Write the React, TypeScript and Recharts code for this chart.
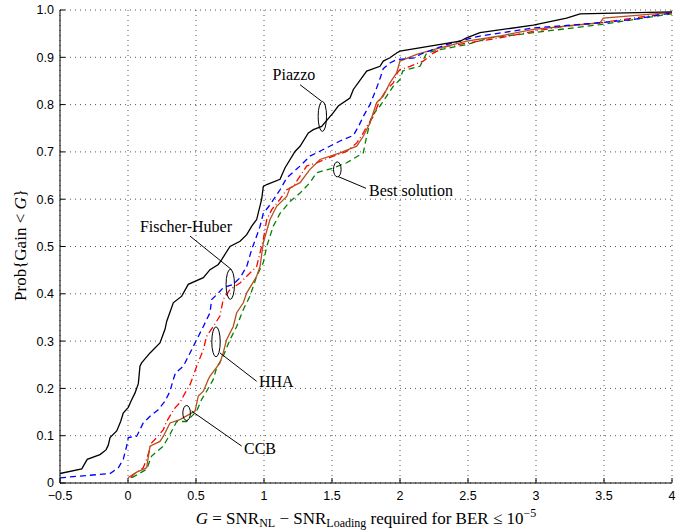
import React from 'react';
import {
  LineChart,
  Line,
  XAxis,
  YAxis,
  CartesianGrid,
  ReferenceLine,
  ReferenceDot,
} from 'recharts';

type Pt = { x: number; y: number };

// ---------------- data ----------------
const xTicks = [-0.5, 0, 0.5, 1, 1.5, 2, 2.5, 3, 3.5, 4];
const yTicks = [0, 0.1, 0.2, 0.3, 0.4, 0.5, 0.6, 0.7, 0.8, 0.9, 1.0];

const piazzo: Pt[] = [
  { x: -0.5, y: 0.02 }, { x: -0.34, y: 0.03 }, { x: -0.3, y: 0.05 }, { x: -0.206, y: 0.06 },
  { x: -0.162, y: 0.07 }, { x: -0.145, y: 0.08 }, { x: -0.132, y: 0.096 }, { x: -0.083, y: 0.11 },
  { x: -0.054, y: 0.13 }, { x: -0.035, y: 0.148 }, { x: 0.002, y: 0.16 }, { x: 0.027, y: 0.176 },
  { x: 0.051, y: 0.19 }, { x: 0.076, y: 0.21 }, { x: 0.088, y: 0.247 }, { x: 0.1, y: 0.254 },
  { x: 0.162, y: 0.275 }, { x: 0.235, y: 0.296 }, { x: 0.272, y: 0.325 }, { x: 0.285, y: 0.342 },
  { x: 0.333, y: 0.381 }, { x: 0.395, y: 0.395 }, { x: 0.443, y: 0.42 }, { x: 0.554, y: 0.434 },
  { x: 0.603, y: 0.451 }, { x: 0.664, y: 0.462 }, { x: 0.69, y: 0.473 }, { x: 0.75, y: 0.5 },
  { x: 0.824, y: 0.511 }, { x: 0.873, y: 0.525 }, { x: 0.91, y: 0.543 }, { x: 0.946, y: 0.557 },
  { x: 0.983, y: 0.6 }, { x: 0.995, y: 0.627 }, { x: 1.02, y: 0.631 }, { x: 1.118, y: 0.642 },
  { x: 1.154, y: 0.666 }, { x: 1.228, y: 0.701 }, { x: 1.265, y: 0.712 }, { x: 1.326, y: 0.74 },
  { x: 1.363, y: 0.747 }, { x: 1.424, y: 0.754 }, { x: 1.51, y: 0.783 }, { x: 1.546, y: 0.797 },
  { x: 1.632, y: 0.814 }, { x: 1.657, y: 0.832 }, { x: 1.755, y: 0.871 }, { x: 1.853, y: 0.881 },
  { x: 1.877, y: 0.892 }, { x: 1.926, y: 0.899 }, { x: 1.975, y: 0.909 }, { x: 2.0, y: 0.913 },
  { x: 2.441, y: 0.934 }, { x: 2.49, y: 0.941 }, { x: 2.588, y: 0.952 }, { x: 2.98, y: 0.968 },
  { x: 3.225, y: 0.983 }, { x: 3.324, y: 0.992 }, { x: 4.0, y: 0.996 },
];

const fischerHuber: Pt[] = [
  { x: -0.5, y: 0.011 }, { x: -0.132, y: 0.02 }, { x: -0.071, y: 0.032 }, { x: -0.035, y: 0.05 },
  { x: -0.01, y: 0.078 }, { x: 0.002, y: 0.096 }, { x: 0.064, y: 0.099 }, { x: 0.088, y: 0.113 },
  { x: 0.112, y: 0.127 }, { x: 0.162, y: 0.141 }, { x: 0.223, y: 0.155 }, { x: 0.272, y: 0.173 },
  { x: 0.309, y: 0.194 }, { x: 0.333, y: 0.219 }, { x: 0.35, y: 0.233 }, { x: 0.407, y: 0.247 },
  { x: 0.456, y: 0.275 }, { x: 0.505, y: 0.303 }, { x: 0.554, y: 0.331 }, { x: 0.603, y: 0.36 },
  { x: 0.615, y: 0.388 }, { x: 0.652, y: 0.398 }, { x: 0.701, y: 0.413 }, { x: 0.774, y: 0.42 },
  { x: 0.824, y: 0.434 }, { x: 0.873, y: 0.458 }, { x: 0.91, y: 0.494 }, { x: 0.946, y: 0.522 },
  { x: 0.971, y: 0.543 }, { x: 0.995, y: 0.57 }, { x: 1.044, y: 0.588 }, { x: 1.118, y: 0.62 },
  { x: 1.167, y: 0.645 }, { x: 1.265, y: 0.67 }, { x: 1.338, y: 0.691 }, { x: 1.436, y: 0.705 },
  { x: 1.559, y: 0.723 }, { x: 1.657, y: 0.735 }, { x: 1.695, y: 0.754 }, { x: 1.73, y: 0.775 },
  { x: 1.779, y: 0.8 }, { x: 1.828, y: 0.835 }, { x: 1.853, y: 0.855 }, { x: 1.877, y: 0.876 },
  { x: 1.926, y: 0.888 }, { x: 1.975, y: 0.895 }, { x: 2.11, y: 0.899 }, { x: 2.147, y: 0.906 },
  { x: 2.343, y: 0.927 }, { x: 2.49, y: 0.938 }, { x: 2.588, y: 0.945 }, { x: 2.98, y: 0.962 },
  { x: 3.47, y: 0.973 }, { x: 3.716, y: 0.98 }, { x: 4.0, y: 0.994 },
];

const hha: Pt[] = [
  { x: 0.02, y: 0.011 }, { x: 0.04, y: 0.018 }, { x: 0.112, y: 0.032 }, { x: 0.137, y: 0.05 },
  { x: 0.174, y: 0.085 }, { x: 0.211, y: 0.096 }, { x: 0.26, y: 0.113 }, { x: 0.284, y: 0.13 },
  { x: 0.321, y: 0.148 }, { x: 0.346, y: 0.159 }, { x: 0.382, y: 0.17 }, { x: 0.419, y: 0.19 },
  { x: 0.456, y: 0.208 }, { x: 0.48, y: 0.226 }, { x: 0.505, y: 0.247 }, { x: 0.554, y: 0.282 },
  { x: 0.578, y: 0.31 }, { x: 0.627, y: 0.331 }, { x: 0.676, y: 0.353 }, { x: 0.7, y: 0.388 },
  { x: 0.75, y: 0.409 }, { x: 0.824, y: 0.423 }, { x: 0.873, y: 0.437 }, { x: 0.946, y: 0.458 },
  { x: 0.971, y: 0.487 }, { x: 0.995, y: 0.515 }, { x: 1.02, y: 0.557 }, { x: 1.057, y: 0.578 },
  { x: 1.118, y: 0.6 }, { x: 1.167, y: 0.62 }, { x: 1.215, y: 0.627 }, { x: 1.265, y: 0.649 },
  { x: 1.314, y: 0.67 }, { x: 1.387, y: 0.677 }, { x: 1.51, y: 0.691 }, { x: 1.608, y: 0.701 },
  { x: 1.682, y: 0.719 }, { x: 1.73, y: 0.74 }, { x: 1.755, y: 0.754 }, { x: 1.804, y: 0.775 },
  { x: 1.853, y: 0.81 }, { x: 1.902, y: 0.832 }, { x: 1.951, y: 0.846 }, { x: 1.98, y: 0.867 },
  { x: 2.0, y: 0.874 }, { x: 2.074, y: 0.881 }, { x: 2.171, y: 0.892 }, { x: 2.245, y: 0.909 },
  { x: 2.343, y: 0.923 }, { x: 2.49, y: 0.93 }, { x: 2.735, y: 0.941 }, { x: 2.98, y: 0.955 },
  { x: 3.225, y: 0.966 }, { x: 3.47, y: 0.973 }, { x: 3.716, y: 0.983 }, { x: 4.0, y: 0.994 },
];

const ccb: Pt[] = [
  { x: 0.0, y: 0.011 }, { x: 0.064, y: 0.023 }, { x: 0.137, y: 0.032 }, { x: 0.162, y: 0.078 },
  { x: 0.235, y: 0.088 }, { x: 0.26, y: 0.099 }, { x: 0.309, y: 0.127 }, { x: 0.382, y: 0.134 },
  { x: 0.493, y: 0.152 }, { x: 0.517, y: 0.184 }, { x: 0.554, y: 0.194 }, { x: 0.59, y: 0.219 },
  { x: 0.603, y: 0.226 }, { x: 0.676, y: 0.254 }, { x: 0.7, y: 0.275 }, { x: 0.725, y: 0.303 },
  { x: 0.774, y: 0.331 }, { x: 0.799, y: 0.36 }, { x: 0.848, y: 0.381 }, { x: 0.873, y: 0.402 },
  { x: 0.946, y: 0.437 }, { x: 0.971, y: 0.458 }, { x: 0.995, y: 0.508 }, { x: 1.044, y: 0.557 },
  { x: 1.093, y: 0.585 }, { x: 1.167, y: 0.606 }, { x: 1.191, y: 0.624 }, { x: 1.265, y: 0.635 },
  { x: 1.338, y: 0.663 }, { x: 1.412, y: 0.684 }, { x: 1.559, y: 0.698 }, { x: 1.682, y: 0.712 },
  { x: 1.73, y: 0.733 }, { x: 1.779, y: 0.761 }, { x: 1.828, y: 0.804 }, { x: 1.877, y: 0.818 },
  { x: 1.926, y: 0.846 }, { x: 1.975, y: 0.867 }, { x: 2.0, y: 0.892 }, { x: 2.123, y: 0.906 },
  { x: 2.245, y: 0.916 }, { x: 2.49, y: 0.934 }, { x: 2.735, y: 0.945 }, { x: 2.98, y: 0.959 },
  { x: 3.47, y: 0.973 }, { x: 3.495, y: 0.983 }, { x: 3.716, y: 0.988 }, { x: 4.0, y: 0.995 },
];

const bestSolution: Pt[] = [
  { x: 0.027, y: 0.011 }, { x: 0.137, y: 0.029 }, { x: 0.174, y: 0.057 }, { x: 0.26, y: 0.078 },
  { x: 0.309, y: 0.103 }, { x: 0.358, y: 0.13 }, { x: 0.431, y: 0.13 }, { x: 0.505, y: 0.152 },
  { x: 0.542, y: 0.177 }, { x: 0.578, y: 0.194 }, { x: 0.627, y: 0.219 }, { x: 0.652, y: 0.244 },
  { x: 0.7, y: 0.268 }, { x: 0.75, y: 0.303 }, { x: 0.799, y: 0.331 }, { x: 0.848, y: 0.367 },
  { x: 0.897, y: 0.395 }, { x: 0.946, y: 0.437 }, { x: 0.995, y: 0.466 }, { x: 1.02, y: 0.5 },
  { x: 1.068, y: 0.543 }, { x: 1.118, y: 0.57 }, { x: 1.191, y: 0.595 }, { x: 1.265, y: 0.613 },
  { x: 1.338, y: 0.635 }, { x: 1.387, y: 0.656 }, { x: 1.51, y: 0.666 }, { x: 1.608, y: 0.677 },
  { x: 1.73, y: 0.698 }, { x: 1.755, y: 0.733 }, { x: 1.79, y: 0.775 }, { x: 1.853, y: 0.797 },
  { x: 1.902, y: 0.818 }, { x: 1.951, y: 0.839 }, { x: 2.0, y: 0.853 }, { x: 2.02, y: 0.871 },
  { x: 2.049, y: 0.874 }, { x: 2.147, y: 0.881 }, { x: 2.196, y: 0.909 }, { x: 2.294, y: 0.916 },
  { x: 2.49, y: 0.927 }, { x: 2.662, y: 0.941 }, { x: 2.98, y: 0.952 }, { x: 3.47, y: 0.969 },
  { x: 4.0, y: 0.992 },
];

// annotation anchors (data coordinates)
const annotationLabels = [
  { text: 'Piazzo', x: 1.22, y: 0.864, anchor: 'middle' },
  { text: 'Best solution', x: 1.772, y: 0.618, anchor: 'start' },
  { text: 'Fischer-Huber', x: 0.426, y: 0.542, anchor: 'middle' },
  { text: 'HHA', x: 0.963, y: 0.2146, anchor: 'start' },
  { text: 'CCB', x: 0.853, y: 0.073, anchor: 'start' },
];
const annotationEllipses = [
  { x: 1.429, y: 0.775, tall: true },
  { x: 1.539, y: 0.663, tall: false },
  { x: 0.752, y: 0.42, tall: true },
  { x: 0.647, y: 0.2985, tall: true },
  { x: 0.431, y: 0.148, tall: false },
];
const leaderLines = [
  { x1: 1.265, y1: 0.842, x2: 1.424, y2: 0.807 },
  { x1: 1.544, y1: 0.648, x2: 1.75, y2: 0.623 },
  { x1: 0.456, y1: 0.522, x2: 0.762, y2: 0.451 },
  { x1: 0.676, y1: 0.275, x2: 0.946, y2: 0.215 },
  { x1: 0.468, y1: 0.152, x2: 0.836, y2: 0.078 },
];

// ---------------- styles ----------------
const SERIF = '"Liberation Serif", "DejaVu Serif", serif';
const SANS = '"Liberation Sans", Arial, sans-serif';
const tickStyle = { fontFamily: SANS, fontSize: 12.5, fill: '#000' };

const fmtX = (v: number) => (v < 0 ? '\u2212' + Math.abs(v) : String(v));
const fmtY = (v: number) => (v === 0 ? '0' : v.toFixed(1));

const XTitle = () => (
  <text x={366} y={524} textAnchor="middle" fontFamily={SERIF} fontSize={17} fill="#000">
    <tspan fontStyle="italic">G</tspan>
    <tspan> = SNR</tspan>
    <tspan fontSize={12} dy={3}>NL</tspan>
    <tspan dy={-3}> {'\u2212'} SNR</tspan>
    <tspan fontSize={12} dy={3}>Loading</tspan>
    <tspan dy={-3}> required for BER {'\u2264'} 10</tspan>
    <tspan fontSize={12} dy={-7}>{'\u2212'}5</tspan>
  </text>
);

const YTitle = () => (
  <text
    x={20}
    y={245}
    transform="rotate(-90 20 245)"
    textAnchor="middle"
    dominantBaseline="central"
    fontFamily={SERIF}
    fontSize={17}
    fill="#000"
  >
    Prob{'{'}Gain {'<'} <tspan fontStyle="italic">G</tspan>
    {'}'}
  </text>
);

export default function App() {
  return (
    <div style={{ position: 'absolute', left: 0, top: 0, background: '#fff' }}>
      <LineChart
        width={696}
        height={531}
        margin={{ top: 10, right: 24, bottom: 0, left: 0 }}
        style={{ background: '#fff' }}
      >
        <CartesianGrid stroke="#555" strokeDasharray="1 4" strokeWidth={1} />
        <XAxis
          dataKey="x"
          type="number"
          domain={[-0.5, 4]}
          ticks={xTicks}
          tickFormatter={fmtX}
          allowDataOverflow
          height={48}
          stroke="#000"
          tickSize={-5}
          tickMargin={13}
          tick={tickStyle}
          label={<XTitle />}
        />
        <XAxis
          xAxisId="top"
          orientation="top"
          type="number"
          domain={[-0.5, 4]}
          ticks={xTicks}
          allowDataOverflow
          height={0}
          stroke="#000"
          tickSize={-5}
          tick={false}
        />
        <YAxis
          type="number"
          domain={[0, 1]}
          ticks={yTicks}
          tickFormatter={fmtY}
          allowDataOverflow
          width={60}
          stroke="#000"
          tickSize={-5}
          tickMargin={11}
          tick={tickStyle}
          label={<YTitle />}
        />
        <YAxis
          yAxisId="right"
          orientation="right"
          type="number"
          domain={[0, 1]}
          ticks={yTicks}
          allowDataOverflow
          width={0}
          stroke="#000"
          tickSize={-5}
          tick={false}
        />

        <Line data={bestSolution} dataKey="y" type="linear" stroke="#008000" strokeWidth={1.3} strokeDasharray="6 4" dot={false} isAnimationActive={false} />
        <Line data={hha} dataKey="y" type="linear" stroke="#ff0000" strokeWidth={1.3} strokeDasharray="7 3 1 3" dot={false} isAnimationActive={false} />
        <Line data={ccb} dataKey="y" type="linear" stroke="#b5501c" strokeWidth={1.3} dot={false} isAnimationActive={false} />
        <Line data={fischerHuber} dataKey="y" type="linear" stroke="#0000ff" strokeWidth={1.3} strokeDasharray="6 4" dot={false} isAnimationActive={false} />
        <Line data={piazzo} dataKey="y" type="linear" stroke="#000000" strokeWidth={1.3} dot={false} isAnimationActive={false} />

        {leaderLines.map((l, i) => (
          <ReferenceLine
            key={'l' + i}
            segment={[{ x: l.x1, y: l.y1 }, { x: l.x2, y: l.y2 }]}
            stroke="#000"
            strokeWidth={1}
          />
        ))}
        {annotationEllipses.map((e, i) => (
          <ReferenceDot
            key={'e' + i}
            x={e.x}
            y={e.y}
            r={1}
            shape={(p: any) => (
              <ellipse
                cx={p.cx}
                cy={p.cy}
                rx={e.tall ? 4.2 : 3.8}
                ry={e.tall ? 15 : 7.5}
                fill="none"
                stroke="#000"
                strokeWidth={1}
              />
            )}
          />
        ))}
        {annotationLabels.map((a, i) => (
          <ReferenceDot
            key={'t' + i}
            x={a.x}
            y={a.y}
            r={1}
            shape={(p: any) => (
              <text
                x={p.cx}
                y={p.cy}
                textAnchor={a.anchor}
                dominantBaseline="central"
                fontFamily={SERIF}
                fontSize={16}
                fill="#000"
              >
                {a.text}
              </text>
            )}
          />
        ))}
      </LineChart>
    </div>
  );
}
